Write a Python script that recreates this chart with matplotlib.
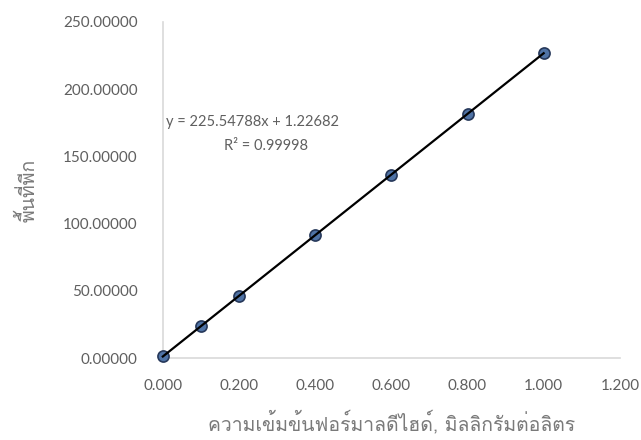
import matplotlib
matplotlib.use("Agg")
import matplotlib.pyplot as plt
import numpy as np

# Formaldehyde standard curve (mg/L vs peak area)
concentration = [0.0, 0.1, 0.2, 0.4, 0.6, 0.8, 1.0]
peak_area = [1.5, 23.7, 46.2, 91.3, 136.4, 181.6, 226.6]

# Linear trendline
slope = 225.54788
intercept = 1.22682
r_squared = 0.99998

x_ticks = [0.0, 0.2, 0.4, 0.6, 0.8, 1.0, 1.2]
y_ticks = [0, 50, 100, 150, 200, 250]

x_label = "ความเข้มข้นฟอร์มาลดีไฮด์, มิลลิกรัมต่อลิตร"
y_label = "พื้นที่พีก"

TEXT_GRAY = "#5f5f5f"
LABEL_GRAY = "#7a7a7a"
THAI_FONT = ["Loma", "Noto Sans Thai Looped", "DejaVu Sans"]

plt.rcParams["font.family"] = ["Lato", "DejaVu Sans"]

fig = plt.figure(figsize=(6.41, 4.40), dpi=100)
ax = fig.add_axes([0.254, 0.186, 0.713, 0.764])

# Points
ax.plot(
    concentration,
    peak_area,
    linestyle="none",
    marker="o",
    markersize=8,
    markerfacecolor="#4f73a6",
    markeredgecolor="#26385a",
    markeredgewidth=1.2,
    clip_on=False,
    zorder=3,
)

# Trendline over the measured range
xs = np.array([concentration[0], concentration[-1]])
ax.plot(xs, slope * xs + intercept, color="black", linewidth=1.6, clip_on=False, zorder=4)

# Equation label
ax.text(0.236, 176, f"y = {slope:.5f}x + {intercept:.5f}", ha="center", va="center",
        fontsize=10.5, color=TEXT_GRAY)
ax.text(0.272, 158, f"R² = {r_squared:.5f}", ha="center", va="center",
        fontsize=10.5, color=TEXT_GRAY)

# Axes styling
ax.set_xlim(0, 1.2)
ax.set_ylim(0, 250)
ax.set_xticks(x_ticks)
ax.set_yticks(y_ticks)
ax.set_xticklabels([f"{v:.3f}" for v in x_ticks])
ax.set_yticklabels([f"{v:.5f}" for v in y_ticks])
ax.tick_params(length=0, labelsize=11, labelcolor=TEXT_GRAY)
ax.tick_params(axis="y", pad=18)
ax.tick_params(axis="x", pad=15)
for side in ["top", "right"]:
    ax.spines[side].set_visible(False)
for side in ["left", "bottom"]:
    ax.spines[side].set_color("#d9d9d9")
    ax.spines[side].set_linewidth(1.2)

ax.set_xlabel(x_label, family=THAI_FONT, fontsize=14, color=LABEL_GRAY)
ax.set_ylabel(y_label, family=THAI_FONT, fontsize=14, color=LABEL_GRAY)
ax.xaxis.set_label_coords(0.5, -0.155)
ax.yaxis.set_label_coords(-0.272, 0.5)

fig.savefig("out.png", dpi=100)
